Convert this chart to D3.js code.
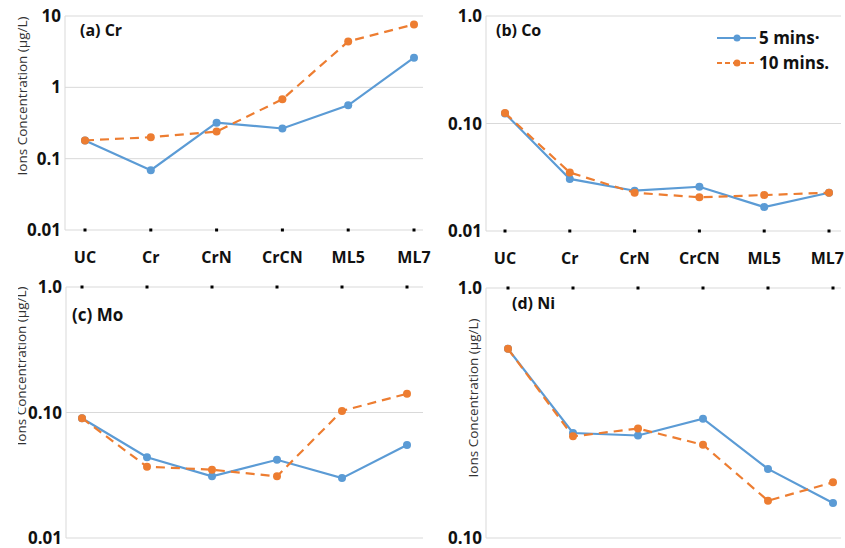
<!DOCTYPE html>
<html>
<head>
<meta charset="utf-8">
<script src="https://cdn.jsdelivr.net/npm/d3@7"></script>
<style>
  body { margin: 0; background: #fff; }
  svg { display: block; font-family: "Open Sans", sans-serif; }
</style>
</head>
<body>
<div id="chart"></div>
<script>
// categories and values
const categories = ['UC', 'Cr', 'CrN', 'CrCN', 'ML5', 'ML7']
const seriesNames = ['5 mins·', '10 mins.']

const cr5 = [0.18, 0.069, 0.32, 0.265, 0.56, 2.6]
const cr10 = [0.18, 0.20, 0.24, 0.68, 4.4, 7.6]
const co5 = [0.124, 0.0305, 0.0237, 0.0258, 0.0167, 0.0227]
const co10 = [0.125, 0.035, 0.0227, 0.0206, 0.0216, 0.0227]
const mo5 = [0.090, 0.044, 0.031, 0.042, 0.030, 0.055]
const mo10 = [0.090, 0.037, 0.035, 0.031, 0.103, 0.141]
const ni5 = [0.571, 0.263, 0.257, 0.300, 0.189, 0.138]
const ni10 = [0.571, 0.255, 0.274, 0.236, 0.141, 0.167]

const crTicks = [0.01, 0.1, 1, 10]
const crTickLabels = ['0.01', '0.1', '1', '10']
const coTicks = [0.01, 0.1, 1]
const coTickLabels = ['0.01', '0.10', '1.0']
const moTicks = [0.01, 0.1, 1]
const moTickLabels = ['0.01', '0.10', '1.0']
const niTicks = [0.1, 1]
const niTickLabels = ['0.10', '1.0']

const width = 845
const height = 548
const blue = '#5b9bd5'
const orange = '#ed7d31'
const grid = '#d9d9d9'

// panel boxes (layout only)
const panels = [
  { title: '(a) Cr', s5: cr5, s10: cr10, ticks: crTicks, labels: crTickLabels,
    left: 65, right: 423, top: 16, bottom: 230, x0: 85, x1: 414,
    dotsAt: 'bottom', showCats: true, yTitle: { x: 22, y: 96, clip: false },
    titlePos: [80, 36], fs: 16 },
  { title: '(b) Co', s5: co5, s10: co10, ticks: coTicks, labels: coTickLabels,
    left: 486, right: 841, top: 16, bottom: 231, x0: 505, x1: 829,
    dotsAt: 'bottom', showCats: true, yTitle: null,
    titlePos: [496, 36], fs: 16, legend: true },
  { title: '(c) Mo', s5: mo5, s10: mo10, ticks: moTicks, labels: moTickLabels,
    left: 66, right: 423, top: 287, bottom: 538, x0: 82, x1: 407,
    dotsAt: 'top', showCats: false, yTitle: { x: 21, y: 366, clip: true },
    titlePos: [72, 321], fs: 17 },
  { title: '(d) Ni', s5: ni5, s10: ni10, ticks: niTicks, labels: niTickLabels,
    left: 486, right: 841, top: 288, bottom: 538, x0: 508, x1: 833,
    dotsAt: 'top', showCats: false, yTitle: { x: 473, y: 398, clip: false },
    titlePos: [512, 309], fs: 16 }
]

const svg = d3.select('#chart')
  .append('svg')
  .attr('width', width)
  .attr('height', height)

// the (c) axis title is half cut in the reference
svg.append('defs')
  .append('clipPath')
  .attr('id', 'cutTitle')
  .append('rect')
  .attr('x', 18).attr('y', 270).attr('width', 40).attr('height', 200)

panels.forEach(p => {
  const g = svg.append('g')

  const x = d3.scalePoint()
    .domain(categories)
    .range([p.x0, p.x1])

  const y = d3.scaleLog()
    .domain([p.ticks[0], p.ticks[p.ticks.length - 1]])
    .range([p.bottom, p.top])

  // gridlines
  g.append('g')
    .selectAll('line')
    .data(p.ticks)
    .enter()
    .append('line')
    .attr('x1', p.left)
    .attr('x2', p.right)
    .attr('y1', d => y(d))
    .attr('y2', d => y(d))
    .attr('stroke', grid)
    .attr('stroke-width', 1)

  // left axis line
  g.append('line')
    .attr('x1', p.left).attr('x2', p.left)
    .attr('y1', p.top).attr('y2', p.bottom)
    .attr('stroke', grid)

  // y tick labels
  g.append('g')
    .selectAll('text')
    .data(p.ticks)
    .enter()
    .append('text')
    .attr('x', p.left - 4)
    .attr('y', d => y(d))
    .attr('dy', '0.36em')
    .attr('text-anchor', 'end')
    .style('font-size', '17px')
    .style('font-weight', 'bold')
    .attr('fill', '#111')
    .text((d, i) => p.labels[i])

  // small dots on the axis line
  const dotY = p.dotsAt === 'bottom' ? p.bottom : p.top
  g.append('g')
    .selectAll('rect')
    .data(categories)
    .enter()
    .append('rect')
    .attr('x', d => x(d) - 1.5)
    .attr('y', dotY - 1.5)
    .attr('width', 3)
    .attr('height', 3)
    .attr('fill', '#000')

  if (p.showCats) {
    g.append('g')
      .selectAll('text')
      .data(categories)
      .enter()
      .append('text')
      .attr('x', d => x(d))
      .attr('y', p.bottom + 33)
      .attr('text-anchor', 'middle')
      .style('font-size', '16px')
      .style('font-weight', 'bold')
      .attr('fill', '#111')
      .text(d => d)
      .each(function () {
        // keep the last label inside the page
        const w = this.getComputedTextLength()
        const cx = +this.getAttribute('x')
        if (cx + w / 2 > width - 1) this.setAttribute('x', width - 1 - w / 2)
      })
  }

  if (p.yTitle) {
    g.append('g')
      .attr('clip-path', p.yTitle.clip ? 'url(#cutTitle)' : null)
      .append('text')
      .attr('transform', `translate(${p.yTitle.x},${p.yTitle.y}) rotate(-90)`)
      .attr('text-anchor', 'middle')
      .attr('dy', '0.35em')
      .style('font-size', '13.5px')
      .attr('fill', '#333')
      .text('Ions  Concentration (µg/L)')
  }

  g.append('text')
    .attr('x', p.titlePos[0])
    .attr('y', p.titlePos[1])
    .style('font-size', p.fs + 'px')
    .style('font-weight', 'bold')
    .attr('fill', '#111')
    .text(p.title)

  const line = d3.line()
    .x((d, i) => x(categories[i]))
    .y(d => y(d))

  const series = [
    { values: p.s5, color: blue, dash: null },
    { values: p.s10, color: orange, dash: '9,6' }
  ]

  series.forEach(s => {
    g.append('path')
      .datum(s.values)
      .attr('d', line)
      .attr('fill', 'none')
      .attr('stroke', s.color)
      .attr('stroke-width', 2.2)
      .attr('stroke-dasharray', s.dash)

    g.append('g')
      .selectAll('circle')
      .data(s.values)
      .enter()
      .append('circle')
      .attr('cx', (d, i) => x(categories[i]))
      .attr('cy', d => y(d))
      .attr('r', 4)
      .attr('fill', s.color)
  })

  if (p.legend) {
    const lg = g.append('g')
    const rows = [
      { name: seriesNames[0], color: blue, dash: null, y: 38 },
      { name: seriesNames[1], color: orange, dash: '5,3', y: 63 }
    ]
    rows.forEach(r => {
      lg.append('line')
        .attr('x1', 717).attr('x2', 756)
        .attr('y1', r.y).attr('y2', r.y)
        .attr('stroke', r.color)
        .attr('stroke-width', 2)
        .attr('stroke-dasharray', r.dash)
      lg.append('circle')
        .attr('cx', 737).attr('cy', r.y).attr('r', 3.5)
        .attr('fill', r.color)
      lg.append('text')
        .attr('x', 759)
        .attr('y', r.y)
        .attr('dy', '0.36em')
        .style('font-size', '17px')
        .style('font-weight', 'bold')
        .attr('fill', '#111')
        .text(r.name)
    })
  }
})
</script>
</body>
</html>
